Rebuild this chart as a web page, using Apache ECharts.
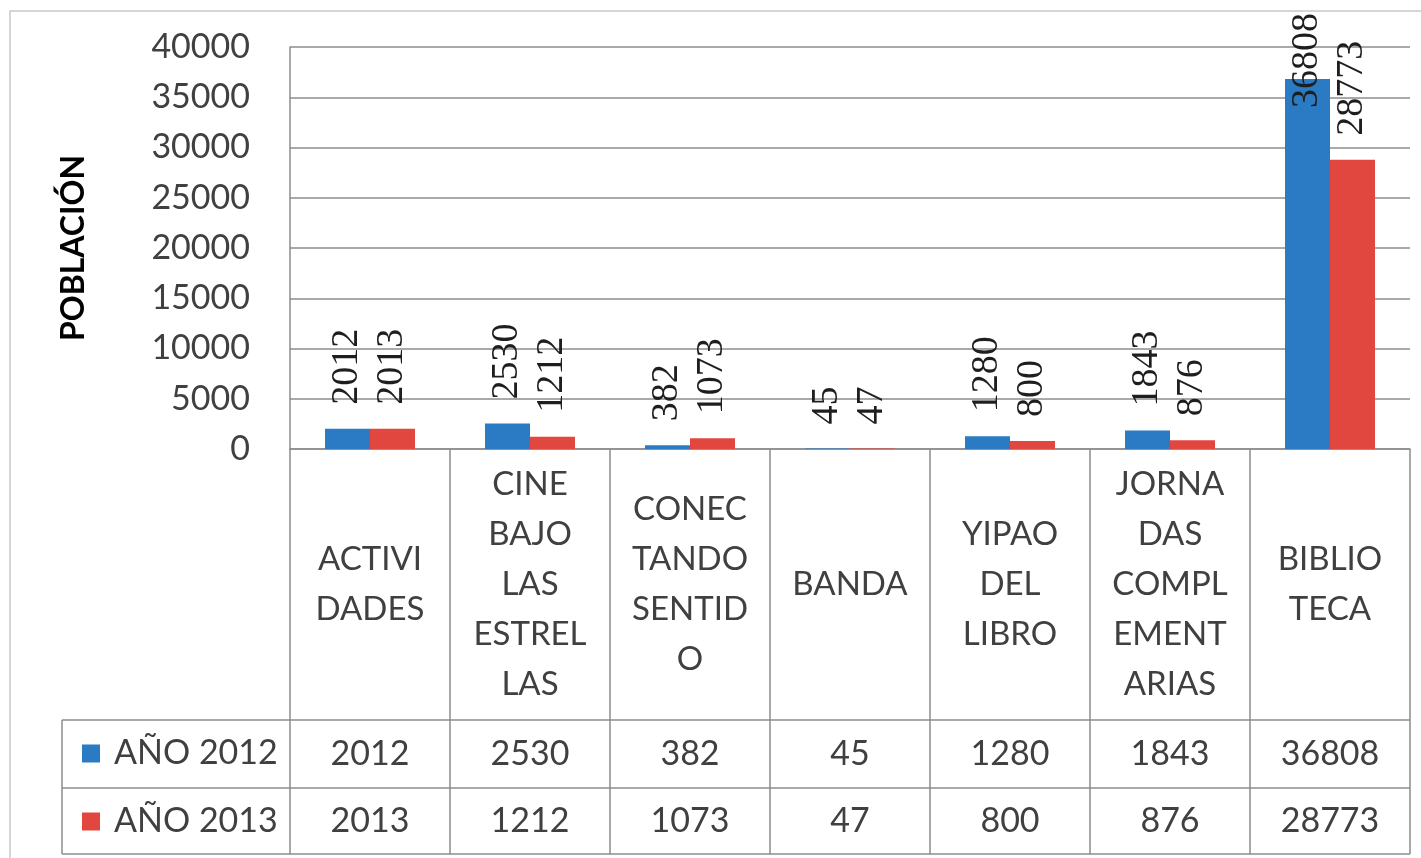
<!DOCTYPE html>
<html>
<head>
<meta charset="utf-8">
<script src="https://cdn.jsdelivr.net/npm/echarts@6/dist/echarts.min.js"></script>
<style>
  html, body { margin: 0; padding: 0; background: #fff; }
  #chart { width: 1421px; height: 858px; }
</style>
</head>
<body>
<div id="chart"></div>
<script>
// categories as they are broken into lines in the table
const categories = [
  'ACTIVI\nDADES',
  'CINE\nBAJO\nLAS\nESTREL\nLAS',
  'CONEC\nTANDO\nSENTID\nO',
  'BANDA',
  'YIPAO\nDEL\nLIBRO',
  'JORNA\nDAS\nCOMPL\nEMENT\nARIAS',
  'BIBLIO\nTECA'
]
const seriesNames = ['AÑO 2012', 'AÑO 2013']
const values2012 = [2012, 2530, 382, 45, 1280, 1843, 36808]
const values2013 = [2013, 1212, 1073, 47, 800, 876, 28773]

// layout
const plotLeft = 290
const plotRight = 1410
const plotTop = 47
const axisY = 449
const row1Y = 720
const row2Y = 788
const tableBottom = 854
const tableLeft = 62

const gray = '#8c8c8c'
const textColor = '#404040'
const sans = 'Lato, "Open Sans", sans-serif'

const chart = echarts.init(document.getElementById('chart'))

const valueAxis = (values, centerY) => ({
  type: 'category',
  gridIndex: 0,
  position: 'bottom',
  data: values.map(String),
  axisLine: { show: false },
  axisTick: { show: false },
  splitLine: { show: false },
  axisLabel: {
    interval: 0,
    margin: centerY - axisY,
    verticalAlign: 'middle',
    fontFamily: sans,
    fontSize: 34,
    color: textColor
  }
})

const barLabel = {
  show: true,
  position: 'top',
  rotate: 90,
  align: 'left',
  verticalAlign: 'middle',
  distance: 24,
  fontFamily: '"Liberation Serif", serif',
  fontSize: 38,
  color: '#1e1e1e'
}

const option = {
  animation: false,
  backgroundColor: '#fff',
  grid: {
    left: plotLeft,
    right: 1421 - plotRight,
    top: plotTop,
    bottom: 858 - axisY,
    containLabel: false
  },
  legend: {
    orient: 'vertical',
    left: 77,
    top: 729,
    itemWidth: 18,
    itemHeight: 18,
    itemGap: 29,
    icon: 'rect',
    selectedMode: false,
    data: seriesNames,
    textStyle: {
      fontFamily: sans,
      fontSize: 34,
      lineHeight: 34,
      color: textColor,
      padding: [0, 0, 5, 9]
    }
  },
  xAxis: [
    {
      type: 'category',
      data: categories,
      axisLine: { show: true, lineStyle: { color: gray, width: 1.5 } },
      axisTick: {
        show: true,
        interval: 0,
        length: tableBottom - axisY,
        lineStyle: { color: gray, width: 1.5 }
      },
      axisLabel: {
        interval: 0,
        margin: (axisY + row1Y) / 2 - axisY,
        verticalAlign: 'middle',
        lineHeight: 50,
        fontFamily: sans,
        fontSize: 33,
        color: textColor
      }
    },
    valueAxis(values2012, (row1Y + row2Y) / 2),
    valueAxis(values2013, (row2Y + tableBottom) / 2)
  ],
  yAxis: {
    type: 'value',
    min: 0,
    max: 40000,
    interval: 5000,
    name: 'POBLACIÓN',
    nameLocation: 'middle',
    nameRotate: 90,
    nameGap: 200,
    nameTextStyle: {
      fontFamily: sans,
      fontSize: 32,
      fontWeight: 'bold',
      color: '#000'
    },
    axisLine: { show: true, lineStyle: { color: gray, width: 1.5 } },
    axisTick: { show: false },
    splitLine: { lineStyle: { color: gray, width: 1.5 } },
    axisLabel: {
      margin: 40,
      fontFamily: sans,
      fontSize: 34,
      color: textColor,
      formatter: (v) => String(v)
    }
  },
  series: [
    {
      name: seriesNames[0],
      type: 'bar',
      data: values2012,
      barWidth: 45,
      barGap: '0%',
      itemStyle: { color: '#2a7bc3' },
      label: barLabel
    },
    {
      name: seriesNames[1],
      type: 'bar',
      data: values2013,
      barWidth: 45,
      barGap: '0%',
      itemStyle: { color: '#e1473f' },
      label: barLabel
    }
  ],
  // keep labels inside the chart frame, like the spreadsheet does
  // (the label is rotated, so its own x axis points up the screen)
  labelLayout: (params) => {
    if (params.labelRect.y < 13) {
      return { dx: params.labelRect.y - 13 }
    }
    return {}
  },
  graphic: [
    // chart frame
    {
      type: 'rect',
      shape: { x: 10, y: 11, width: 1500, height: 900 },
      style: { fill: null, stroke: '#c8c8c8', lineWidth: 1.5 },
      silent: true
    },
    // data table lines
    {
      type: 'line',
      shape: { x1: tableLeft, y1: row1Y, x2: plotRight, y2: row1Y },
      style: { stroke: gray, lineWidth: 1.5 }
    },
    {
      type: 'line',
      shape: { x1: tableLeft, y1: row2Y, x2: plotRight, y2: row2Y },
      style: { stroke: gray, lineWidth: 1.5 }
    },
    {
      type: 'line',
      shape: { x1: tableLeft, y1: tableBottom, x2: plotRight, y2: tableBottom },
      style: { stroke: gray, lineWidth: 1.5 }
    },
    {
      type: 'line',
      shape: { x1: tableLeft, y1: row1Y, x2: tableLeft, y2: tableBottom },
      style: { stroke: gray, lineWidth: 1.5 }
    }
  ]
}

chart.setOption(option)
</script>
</body>
</html>
